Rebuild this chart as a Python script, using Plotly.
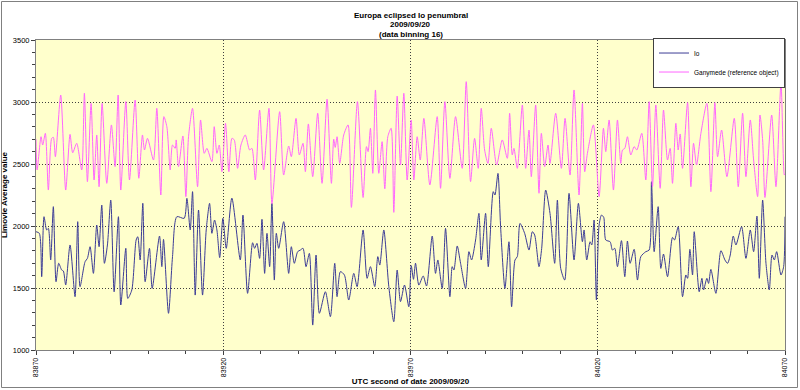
import plotly.graph_objects as go

t0 = 83870

gany_t = [0.0, 0.3, 1.34, 1.78, 2.5, 3.3, 4.19, 4.63, 5.17, 6.6, 7.93, 9.09, 9.8, 10.87, 12.21, 12.92, 13.73, 14.71, 15.51, 16.22,
          16.84, 17.65, 18.9, 20.14, 21.12, 21.93, 22.64, 23.98, 24.96, 26.47, 27.45, 28.43, 28.97, 29.77, 31.37, 32.26, 33.33, 34.14, 34.94, 35.83,
          36.45, 37.17, 37.43, 38.06, 39.22, 40.02, 40.73, 41.8, 43.14, 43.94, 44.92, 45.63, 46.97, 47.59, 48.31, 48.93, 49.64, 50.6, 51.5, 52.32,
          52.94, 53.83, 54.72, 55.88, 57.04, 57.66, 58.56, 59.71, 60.78, 62.21, 63.0, 65.06, 66.13, 67.47, 68.18, 69.43, 70.32, 71.3, 71.93, 72.73,
          73.89, 75.22, 76.38, 77.72, 78.88, 79.5, 79.9, 80.39, 81.1, 82.17, 83.33, 84.22, 85.83, 87.34, 88.24, 88.68, 89.3, 89.93, 90.64, 91.53,
          92.42, 93.14, 93.94, 94.83, 95.54, 96.44, 97.33, 98.22, 99.11, 100.18, 100.89, 101.78, 102.6, 103.57, 105.17, 107.13, 108.02, 109.18, 110.52, 112.03,
          113.81, 114.88, 116.04, 117.11, 118.09, 118.89, 119.79, 120.68, 121.57, 123.0, 124.51, 125.85, 126.47, 127.18, 127.63, 128.52, 129.86, 130.75, 131.64, 132.26,
          133.42, 134.31, 134.94, 135.83, 136.72, 137.25, 138.77, 140.29, 141.27, 142.6, 143.67, 145.0, 145.9, 146.52, 147.24, 148.84, 150.36, 151.52, 152.14, 153.03,
          154.19, 155.26, 156.15, 156.6, 157.22, 157.93, 158.82, 159.72, 160.43, 161.76, 162.83, 163.73, 164.62, 165.51, 166.67, 167.56, 168.63, 169.34, 169.96, 170.86,
          171.48, 172.01, 172.64, 173.98, 174.87, 175.58, 176.38, 177.54, 179.14, 180.21, 181.28, 182.0, 183.07, 184.49, 186.45, 187.52, 188.68, 189.57, 190.73, 191.62,
          192.69, 193.32, 194.03, 194.65, 196.44, 197.59, 198.93, 199.82, 200.0]
gany_v = [2700, 2452, 2720, 2653, 2747, 2290, 2707, 2715, 2559, 3056, 2290, 2739, 2591, 2667, 2452, 3070, 2358, 2989, 2371, 2734,
          2317, 2989, 2344, 2815, 2479, 3056, 2290, 3003, 2371, 3016, 2385, 2734, 2613, 2707, 2532, 2949, 2250, 2882, 2801, 2452,
          2653, 2626, 2694, 2479, 2726, 2237, 2720, 2949, 2317, 2855, 2586, 2626, 2519, 2801, 2586, 2653, 2438, 2828, 2438, 2707,
          2694, 2465, 2653, 2734, 2613, 2626, 2371, 2935, 2452, 2949, 2180, 2922, 2411, 2645, 2559, 2868, 2573, 2667, 2438, 2823,
          2398, 2909, 2344, 3022, 2344, 2700, 2634, 2720, 2505, 2734, 2815, 2150, 3003, 2230, 2640, 2600, 2788, 2425, 3097, 2425,
          2680, 2300, 2720, 2788, 2110, 3048, 2492, 3070, 2371, 2855, 2371, 2720, 2532, 2868, 2331, 2882, 2304, 3003, 2384, 2882,
          2465, 3164, 2358, 2707, 2465, 2949, 2613, 2505, 2788, 2492, 2694, 2546, 2909, 2573, 2626, 2465, 2976, 2465, 2774, 2398,
          2976, 2264, 2747, 2479, 2653, 2505, 2909, 2465, 2868, 2411, 3097, 2250, 2989, 2438, 2586, 2815, 2237, 2788, 2600, 2855,
          2290, 2855, 2505, 2613, 2626, 2720, 2573, 2640, 2613, 2747, 2371, 3003, 2317, 2976, 2304, 2935, 2532, 2626, 2344, 2828,
          2613, 2742, 2465, 2995, 2317, 2667, 2492, 2747, 2989, 2277, 2995, 2559, 2774, 2398, 2868, 2317, 2909, 2398, 2855, 2532,
          2237, 2895, 2694, 2230, 2895, 2317, 3150, 2411, 2420]

io_t = [0.0, 0.89, 1.52, 2.14, 2.85, 3.3, 3.92, 4.63, 5.35, 6.06, 6.86, 7.31, 7.93, 9.09, 10.43, 11.14, 11.76, 13.1, 13.73, 14.44,
        15.33, 16.22, 16.84, 17.56, 18.27, 19.07, 19.96, 20.86, 22.01, 22.64, 23.98, 24.51, 25.58, 26.74, 27.18, 27.81, 28.52, 29.14, 30.3, 31.02,
        32.98, 33.6, 34.05, 35.38, 36.45, 37.61, 39.57, 40.29, 41.18, 41.8, 42.51, 43.4, 44.47, 45.45, 46.35, 46.97, 47.68, 48.31, 49.05, 49.9,
        50.8, 52.3, 54.55, 55.26, 56.5, 57.84, 58.37, 59.0, 59.71, 60.34, 61.05, 61.68, 62.39, 63.0, 63.64, 64.17, 64.8, 66.13, 67.47, 68.18,
        68.98, 69.87, 70.59, 71.3, 72.1, 72.99, 73.89, 74.78, 75.67, 77.27, 78.61, 79.77, 80.39, 81.28, 82.35, 83.51, 84.85, 85.74, 87.34, 88.41,
        89.3, 90.46, 91.27, 91.8, 92.87, 94.21, 95.54, 96.44, 97.33, 98.4, 99.55, 100.2, 100.8, 101.34, 102.23, 103.39, 104.28, 105.8, 106.68, 107.3,
        108.47, 109.36, 110.52, 111.14, 111.59, 112.48, 113.37, 114.71, 115.6, 116.31, 117.38, 118.27, 118.89, 120.05, 120.77, 122.1, 122.55, 123.35, 124.06, 125.22,
        126.29, 127.0, 127.9, 128.52, 129.23, 130.48, 131.64, 132.53, 133.16, 134.31, 135.03, 136.1, 137.25, 138.5, 139.22, 140.11, 141.18, 142.33, 143.67, 144.83,
        145.9, 146.35, 147.06, 147.95, 148.4, 149.02, 149.64, 150.36, 151.0, 151.6, 152.14, 153.3, 153.92, 154.55, 155.26, 156.33, 157.22, 157.93, 158.64, 159.72,
        160.61, 161.5, 162.83, 163.73, 164.35, 165.06, 166.13, 166.84, 167.56, 168.63, 169.96, 170.5, 171.48, 172.64, 173.53, 173.98, 174.6, 175.31, 175.76, 177.09,
        177.81, 178.25, 179.14, 179.59, 180.21, 181.55, 182.89, 183.96, 184.67, 185.38, 186.18, 186.9, 188.41, 189.57, 190.73, 191.62, 192.51, 193.14, 194.03, 194.92,
        195.81, 196.53, 197.15, 197.77, 198.93, 199.64, 200.0]
io_v = [1954, 1941, 1591, 2075, 1968, 1981, 1726, 2156, 1551, 1699, 1645, 1637, 1524, 1847, 1430, 2035, 1511, 1712, 1739, 1833,
        1618, 2008, 1833, 2169, 1699, 1847, 2209, 1470, 2075, 1363, 1820, 1416, 1484, 1887, 1914, 1726, 2183, 1551, 1820, 1497,
        1919, 1672, 1892, 1296, 1753, 2075, 2062, 2223, 1968, 2277, 1443, 2129, 1443, 1968, 2183, 1941, 2048, 1968, 1745, 2062,
        1820, 2225, 1726, 2088, 1457, 1865, 1820, 1860, 1739, 2054, 1618, 1941, 1672, 2183, 1564, 1941, 1820, 2035, 1618, 1833,
        1699, 1793, 1806, 1820, 1672, 1779, 1201, 1766, 1296, 1470, 1269, 1699, 1430, 1632, 1605, 1403, 1618, 1511, 1968, 1578,
        1672, 1511, 1753, 1685, 1968, 1511, 1228, 1645, 1390, 1524, 1349, 1680, 1570, 1700, 1524, 1597, 1516, 1919, 1618, 1726,
        1497, 1981, 1430, 1672, 1645, 1839, 1699, 1497, 1793, 1726, 1887, 2102, 1726, 2102, 1672, 2277, 2250, 2424, 1994, 1497,
        1873, 1349, 1726, 1753, 2021, 1941, 1806, 1954, 1927, 1672, 1820, 2290, 2102, 1699, 2209, 1658, 1564, 2263, 1726, 2183,
        1873, 1968, 1726, 1873, 1847, 2048, 1403, 2008, 2088, 2070, 1887, 1873, 1806, 1820, 1672, 1882, 1591, 1879, 1699, 1812,
        1564, 1753, 1793, 1806, 2357, 1793, 2156, 1658, 1774, 1591, 1908, 1887, 1994, 1430, 1605, 1578, 1812, 1605, 1954, 1470,
        1578, 1484, 1578, 1537, 1650, 1457, 1801, 1726, 1699, 1766, 1919, 1847, 1994, 1739, 1968, 1793, 2080, 1578, 2209, 1699,
        1484, 1766, 1726, 1793, 1605, 1672, 2075]

x_ticks = [83870, 83920, 83970, 84020, 84070]
y_ticks = [1000, 1500, 2000, 2500, 3000, 3500]
title_lines = ["Europa eclipsed Io penumbral", "2009/09/20", "(data binning 16)"]

FONT = "Arial, Liberation Sans, sans-serif"

fig = go.Figure()
fig.add_trace(go.Scatter(x=[t0 + t for t in io_t], y=io_v, mode="lines", name="Io",
                         line=dict(color="#3C3C96", width=1, shape="spline", smoothing=0.7)))
fig.add_trace(go.Scatter(x=[t0 + t for t in gany_t], y=gany_v, mode="lines", name="Ganymede (reference object)",
                         line=dict(color="#FF66FF", width=1, shape="spline", smoothing=0.7)))

fig.update_layout(
    width=800, height=390,
    margin=dict(l=36, r=15, t=40, b=40, autoexpand=False),
    paper_bgcolor="white",
    plot_bgcolor="#FFFFCC",
    font=dict(family=FONT, size=8, color="black"),
    showlegend=True,
    legend=dict(x=1.0, y=1.008, xanchor="right", yanchor="top", bgcolor="white",
                bordercolor="#404040", borderwidth=1, font=dict(size=6.5, family=FONT),
                tracegroupgap=0, itemwidth=30),
    xaxis=dict(range=[83870, 84070], tickvals=x_ticks, ticktext=[str(v) for v in x_ticks],
               tickangle=-90, tickfont=dict(size=7), ticks="outside", ticklen=4, tickcolor="#404040",
               showline=True, linecolor="#808080", linewidth=1, mirror=True,
               showgrid=True, gridcolor="#404040", griddash="1px,2px", gridwidth=1,
               minor=dict(dtick=10, tick0=83870, ticks="outside", ticklen=3, tickcolor="#404040", showgrid=False),
               zeroline=False,
               title=dict(text="<b>UTC second of date 2009/09/20</b>", font=dict(size=8), standoff=2)),
    yaxis=dict(range=[1000, 3500], tickvals=y_ticks, tickfont=dict(size=7.5),
               ticks="outside", ticklen=4, tickcolor="#404040",
               showline=True, linecolor="#808080", linewidth=1, mirror=True,
               showgrid=True, gridcolor="#404040", griddash="1px,2px", gridwidth=1,
               minor=dict(dtick=100, tick0=1000, ticks="outside", ticklen=3, tickcolor="#404040", showgrid=False),
               zeroline=False,
               title=dict(text="<b>Limovie Average value</b>", font=dict(size=8), standoff=4)),
)

for i, line in enumerate(title_lines):
    fig.add_annotation(text="<b>%s</b>" % line, xref="paper", yref="paper", x=0.5, xanchor="center",
                       y=(350 - (15 + 9.5 * i)) / 310, yanchor="middle", showarrow=False,
                       font=dict(size=8, family=FONT, color="black"))

fig.add_shape(type="rect", xref="paper", yref="paper",
              x0=(1.5 - 36) / 749, x1=(797.5 - 36) / 749, y0=(350 - 387.5) / 310, y1=(350 - 1.5) / 310,
              line=dict(color="#808080", width=1), fillcolor="rgba(0,0,0,0)", layer="below")

fig.write_html("out.html", config={"displayModeBar": False},
               post_script="document.body.style.margin='0px';document.body.style.overflow='hidden';")
